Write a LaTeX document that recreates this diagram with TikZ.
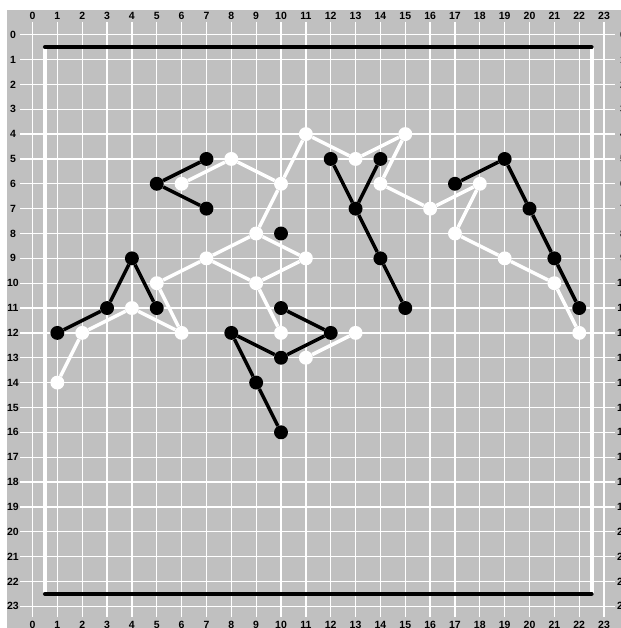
\documentclass[tikz,border=0pt]{standalone}
\usepackage{fontspec}
\setmainfont{Liberation Sans}
\begin{document}
\begin{tikzpicture}[x=1cm,y=-1cm,
  gridline/.style={draw=white,line width=1.5pt},
  lbl/.style={inner sep=0pt,font=\fontsize{12}{13}\selectfont\bfseries,text=black},
  wdot/.style={circle,fill=white,minimum size=0.56cm,inner sep=0pt},
  bdot/.style={circle,fill=black,minimum size=0.56cm,inner sep=0pt},
  wedge/.style={draw=white,line width=4pt},
  bedge/.style={draw=black,line width=4pt},
  bborder/.style={draw=black,line width=4.5pt,line cap=round},
  wborder/.style={draw=white,line width=4.5pt}]
\definecolor{bg}{HTML}{C0C0C0}
\useasboundingbox (-1.308,-1.396) rectangle (23.68,23.875);
\fill[white] (-1.308,-1.396) rectangle (23.68,23.875);
\fill[bg] (-1.026,-0.994) rectangle (23.68,23.875);
% grid
\foreach \i in {0,...,23} {
  \draw[gridline] (-0.5,\i) -- (23.44,\i);
  \draw[gridline] (\i,-0.5) -- (\i,23.44);
  \node[lbl] (tx\i) at (\i,-0.76) {\i};
  \node[lbl] (bx\i) at (\i,23.76) {\i};
  \node[lbl] (ly\i) at (-0.785,\i) {\i};
  \node[lbl] (ry\i) at (23.76,\i) {\i};
}
% border
\coordinate (c1) at (0.5,0.5);
\coordinate (c2) at (22.5,0.5);
\coordinate (c3) at (22.5,22.5);
\coordinate (c4) at (0.5,22.5);
\draw[wborder] (c1) -- (c4);
\draw[wborder] (c2) -- (c3);
\draw[bborder] (c1) -- (c2);
\draw[bborder] (c4) -- (c3);
% white stones
\foreach \x/\y in {1/14,2/12,4/11,6/12,5/10,7/9,9/8,9/10,11/9,10/12,10/6,6/6,8/5,11/4,13/5,15/4,14/6,16/7,18/6,17/8,19/9,21/10,22/12,11/13,13/12}
  \node[wdot] (w-\x-\y) at (\x,\y) {};
\foreach \a/\b in {1-14/2-12,2-12/4-11,4-11/6-12,6-12/5-10,5-10/7-9,7-9/9-8,7-9/9-10,9-8/11-9,11-9/9-10,9-10/10-12,9-8/10-6,6-6/8-5,8-5/10-6,10-6/11-4,11-4/13-5,13-5/15-4,15-4/14-6,14-6/16-7,16-7/18-6,18-6/17-8,17-8/19-9,19-9/21-10,21-10/22-12,11-13/13-12}
  \draw[wedge] (w-\a) -- (w-\b);
% black stones
\foreach \x/\y in {7/5,5/6,7/7,1/12,3/11,4/9,5/11,10/11,12/12,10/13,8/12,9/14,10/16,10/8,12/5,13/7,14/5,14/9,15/11,17/6,19/5,20/7,21/9,22/11}
  \node[bdot] (b-\x-\y) at (\x,\y) {};
\foreach \a/\b in {7-5/5-6,5-6/7-7,1-12/3-11,3-11/4-9,4-9/5-11,10-11/12-12,12-12/10-13,10-13/8-12,8-12/9-14,9-14/10-16,12-5/13-7,13-7/14-5,13-7/14-9,14-9/15-11,17-6/19-5,19-5/20-7,20-7/21-9,21-9/22-11}
  \draw[bedge] (b-\a) -- (b-\b);
\end{tikzpicture}
\end{document}
